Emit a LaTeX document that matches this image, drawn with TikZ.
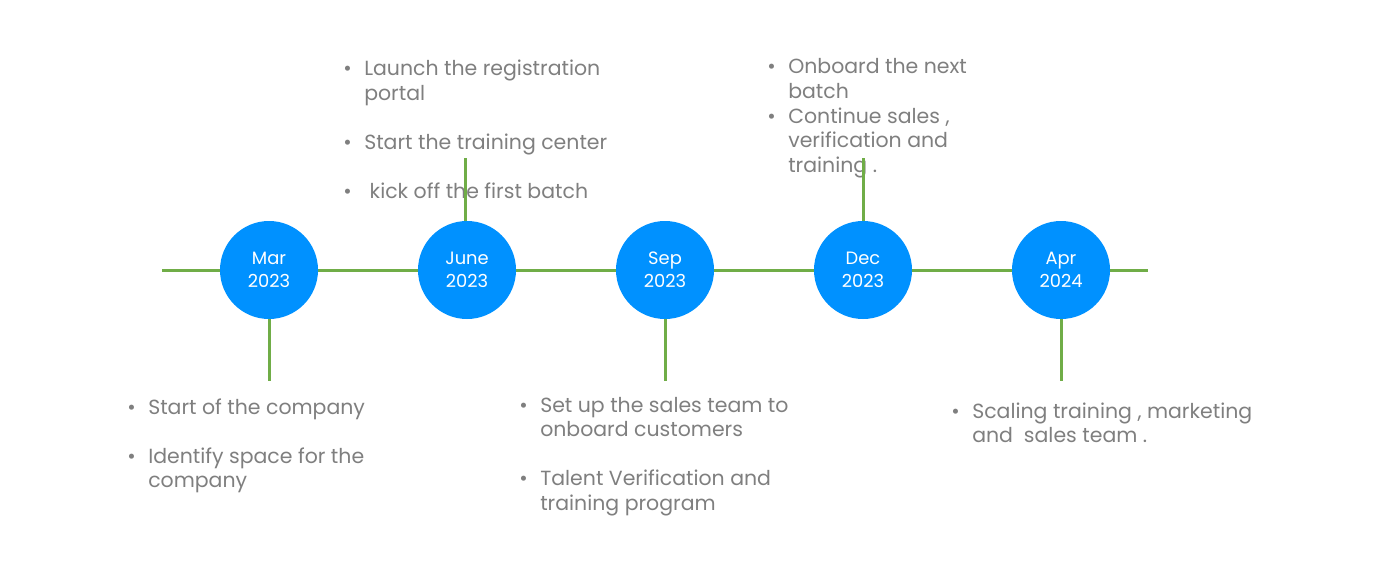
\documentclass[tikz,border=0pt]{standalone}
\usepackage{fontspec}
\setmainfont{Poppins}
\usetikzlibrary{positioning,backgrounds}
\definecolor{tlblue}{HTML}{0091FF}
\definecolor{tlgreen}{HTML}{70AD47}
\definecolor{tlgray}{HTML}{7F7F7F}
\newcommand{\tlb}{\makebox[15.75pt][l]{•}}

\begin{document}
\begin{tikzpicture}[
	x=0.75pt, y=-0.75pt,
	node distance=75pt,
	month/.style={circle, fill=tlblue, text=white, minimum size=73.5pt,
		inner sep=0pt, outer sep=0pt, align=center,
		font=\fontsize{13.4}{17.25}\selectfont},
	notes/.style={anchor=base west, inner sep=0pt, text=tlgray,
		font=\fontsize{15.35}{18.4}\selectfont},
	stem/.style={draw=tlgreen, line width=2.25pt}
	]
\useasboundingbox (0,0) rectangle (1385,585);

\node[month] (mar) at (269,270) {Mar\\2023};
\node[month, right=of mar] (jun) {June\\2023};
\node[month, right=of jun] (sep) {Sep\\2023};
\node[month, right=of sep] (dec) {Dec\\2023};
\node[month, right=of dec] (apr) {Apr\\2024};

\begin{scope}[on background layer]
\coordinate[left=80.25pt of mar.center] (linestart);
\coordinate[right=65.25pt of apr.center] (lineend);
\draw[stem] (linestart) -- (lineend);
\end{scope}

\node[notes] (marnotes) at (127,414) {\begin{tabular}[t]{@{}l@{}l@{}}
	\tlb & Start of the company\\[18.4pt]
	\tlb & Identify space for the\\
	     & company
	\end{tabular}};
\node[notes] (junnotes) at (343,76) {\begin{tabular}[t]{@{}l@{}l@{}}
	\tlb & Launch the registration\\
	     & portal\\[18.4pt]
	\tlb & Start the training center\\[18.4pt]
	\tlb & \ kick off the first batch
	\end{tabular}};
\node[notes] (sepnotes) at (519,412) {\begin{tabular}[t]{@{}l@{}l@{}}
	\tlb & Set up the sales team to\\
	     & onboard customers\\[18.4pt]
	\tlb & Talent Verification and\\
	     & training program
	\end{tabular}};
\node[notes] (decnotes) at (767,74) {\begin{tabular}[t]{@{}l@{}l@{}}
	\tlb & Onboard the next\\
	     & batch\\
	\tlb & Continue sales ,\\
	     & verification and\\
	     & training .
	\end{tabular}};
\node[notes] (aprnotes) at (951,418) {\begin{tabular}[t]{@{}l@{}l@{}}
	\tlb & Scaling training , marketing\\
	     & and\ \ sales team .
	\end{tabular}};

% stems to the notes
\coordinate[below=46.5pt of mar.center, yshift=-36.75pt] (marstem);
\coordinate[above=47pt of jun.center, yshift=36.75pt, xshift=-1.5pt] (junstem);
\coordinate[below=46.5pt of sep.center, yshift=-36.75pt] (sepstem);
\coordinate[above=47pt of dec.center, yshift=36.75pt] (decstem);
\coordinate[below=46.5pt of apr.center, yshift=-36.75pt] (aprstem);
\draw[stem] (mar) -- (marstem);
\draw[stem] (jun.north -| junstem) -- (junstem);
\draw[stem] (sep) -- (sepstem);
\draw[stem] (dec) -- (decstem);
\draw[stem] (apr) -- (aprstem);
\end{tikzpicture}
\end{document}
